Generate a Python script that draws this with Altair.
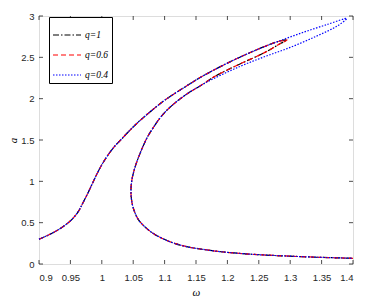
import altair as alt
import pandas as pd

series = ["q=1", "q=0.6", "q=0.4"]
colors = ["black", "red", "blue"]
dashes = [[6, 2, 1.5, 2], [5, 3], [1.5, 1.5]]

x_ticks = [0.9, 0.95, 1.0, 1.05, 1.1, 1.15, 1.2, 1.25, 1.3, 1.35, 1.4]
y_ticks = [0, 0.5, 1, 1.5, 2, 2.5, 3]

# common resonant (upper) branch
w_upper = [0.9, 0.915, 0.93, 0.945, 0.955, 0.963, 0.97, 0.978, 0.986, 0.993, 1.0, 1.01, 1.02, 1.03,
           1.045, 1.06, 1.08, 1.1, 1.13, 1.16, 1.2, 1.24, 1.28]
a_upper = [0.30, 0.35, 0.41, 0.49, 0.56, 0.64, 0.74, 0.86, 0.99, 1.10, 1.20, 1.32, 1.42, 1.50,
           1.62, 1.73, 1.86, 1.98, 2.13, 2.27, 2.43, 2.57, 2.69]

# q=0.4 tip + unstable branch
w_tip_q04 = [1.32, 1.36, 1.39, 1.375, 1.34, 1.3, 1.26, 1.22, 1.18]
a_tip_q04 = [2.80, 2.90, 2.97, 2.88, 2.75, 2.62, 2.51, 2.39, 2.25]

# q=1 / q=0.6 tip + unstable branch
w_tip_q1 = [1.295, 1.285, 1.26, 1.22, 1.18]
a_tip_q1 = [2.71, 2.67, 2.56, 2.42, 2.27]

# common unstable branch down to the turning point
w_mid = [1.16, 1.14, 1.12, 1.105, 1.092, 1.082, 1.073, 1.066, 1.06, 1.055, 1.051, 1.048, 1.0465]
a_mid = [2.17, 2.08, 1.97, 1.87, 1.76, 1.65, 1.54, 1.43, 1.32, 1.22, 1.12, 1.02, 0.91]

# common lower (non-resonant) branch
w_low = [1.047, 1.05, 1.058, 1.07, 1.085, 1.11, 1.135, 1.16, 1.19, 1.24, 1.29, 1.35, 1.4]
a_low = [0.80, 0.68, 0.54, 0.44, 0.355, 0.265, 0.21, 0.178, 0.148, 0.117, 0.098, 0.080, 0.069]

rows = []
for q in series:
    if q == "q=0.4":
        ws = w_upper + w_tip_q04 + w_mid + w_low
        as_ = a_upper + a_tip_q04 + a_mid + a_low
    else:
        ws = w_upper + w_tip_q1 + w_mid + w_low
        as_ = a_upper + a_tip_q1 + a_mid + a_low
    for i, (w, a) in enumerate(zip(ws, as_)):
        rows.append({"w": w, "a": a, "q": q, "i": i})
df = pd.DataFrame(rows)

W, H = 314, 248
xs = alt.Scale(domain=[0.9, 1.4], nice=False, zero=False)
ys = alt.Scale(domain=[0, 3], nice=False)

lab = dict(labelFont="Liberation Sans", labelFontSize=9.5, labelColor="#262626",
           ticks=False, tickSize=0, domain=False, grid=False, labelOverlap=False)

x_axis = alt.Axis(values=x_ticks, format="~g", labelPadding=8,
                  title="ω", titleFont="Liberation Serif", titleFontStyle="italic", titleFontSize=11,
                  titleFontWeight="normal", titleX=157, titleY=28, titleBaseline="middle", **lab)
y_axis = alt.Axis(values=y_ticks, format="~g", labelPadding=5,
                  title="a", titleFont="Liberation Serif", titleFontStyle="italic", titleFontSize=11,
                  titleFontWeight="normal", titleX=-26, titleY=124, titleAlign="center",
                  titleBaseline="middle", **lab)

leg = dict(title=None, orient="none", legendX=10, legendY=1,
           symbolType="stroke", symbolSize=784, symbolStrokeWidth=1.2,
           labelFont="Liberation Serif", labelFontStyle="italic",
           labelFontSize=9.5, labelColor="black", labelOffset=3,
           strokeColor="black", fillColor="white", padding=3, rowPadding=-6.8)

lines = alt.Chart(df).mark_line(strokeWidth=1.2, interpolate="catmull-rom").encode(
    x=alt.X("w:Q", scale=xs, axis=x_axis, title="ω"),
    y=alt.Y("a:Q", scale=ys, axis=y_axis, title="a"),
    color=alt.Color("q:N", scale=alt.Scale(domain=series, range=colors), legend=alt.Legend(**leg)),
    strokeDash=alt.StrokeDash("q:N", scale=alt.Scale(domain=series, range=dashes), legend=alt.Legend(**leg)),
    order="i:Q",
)

xt = pd.DataFrame({"v": x_ticks})
yt = pd.DataFrame({"v": y_ticks})
tick_style = dict(color="black", thickness=1, size=4)
xb = alt.Chart(xt).mark_tick(yOffset=-2, **tick_style).encode(
    x=alt.X("v:Q", scale=xs, axis=x_axis, title="ω"), y=alt.value(H))
xtop = alt.Chart(xt).mark_tick(yOffset=2, **tick_style).encode(
    x=alt.X("v:Q", scale=xs, axis=x_axis, title="ω"), y=alt.value(0))
yl = alt.Chart(yt).mark_tick(orient="horizontal", xOffset=2, **tick_style).encode(
    y=alt.Y("v:Q", scale=ys, axis=y_axis, title="a"), x=alt.value(0))
yr = alt.Chart(yt).mark_tick(orient="horizontal", xOffset=-2, **tick_style).encode(
    y=alt.Y("v:Q", scale=ys, axis=y_axis, title="a"), x=alt.value(W))

chart = alt.layer(lines, xb, xtop, yl, yr).properties(
    width=W, height=H,
    autosize=alt.AutoSizeParams(type="none"),
    padding={"left": 31, "top": 8, "right": 4, "bottom": 34},
).configure_view(stroke="black", strokeWidth=1).configure(background="white")

chart.save("out.html", embed_options={"renderer": "svg", "actions": False})
